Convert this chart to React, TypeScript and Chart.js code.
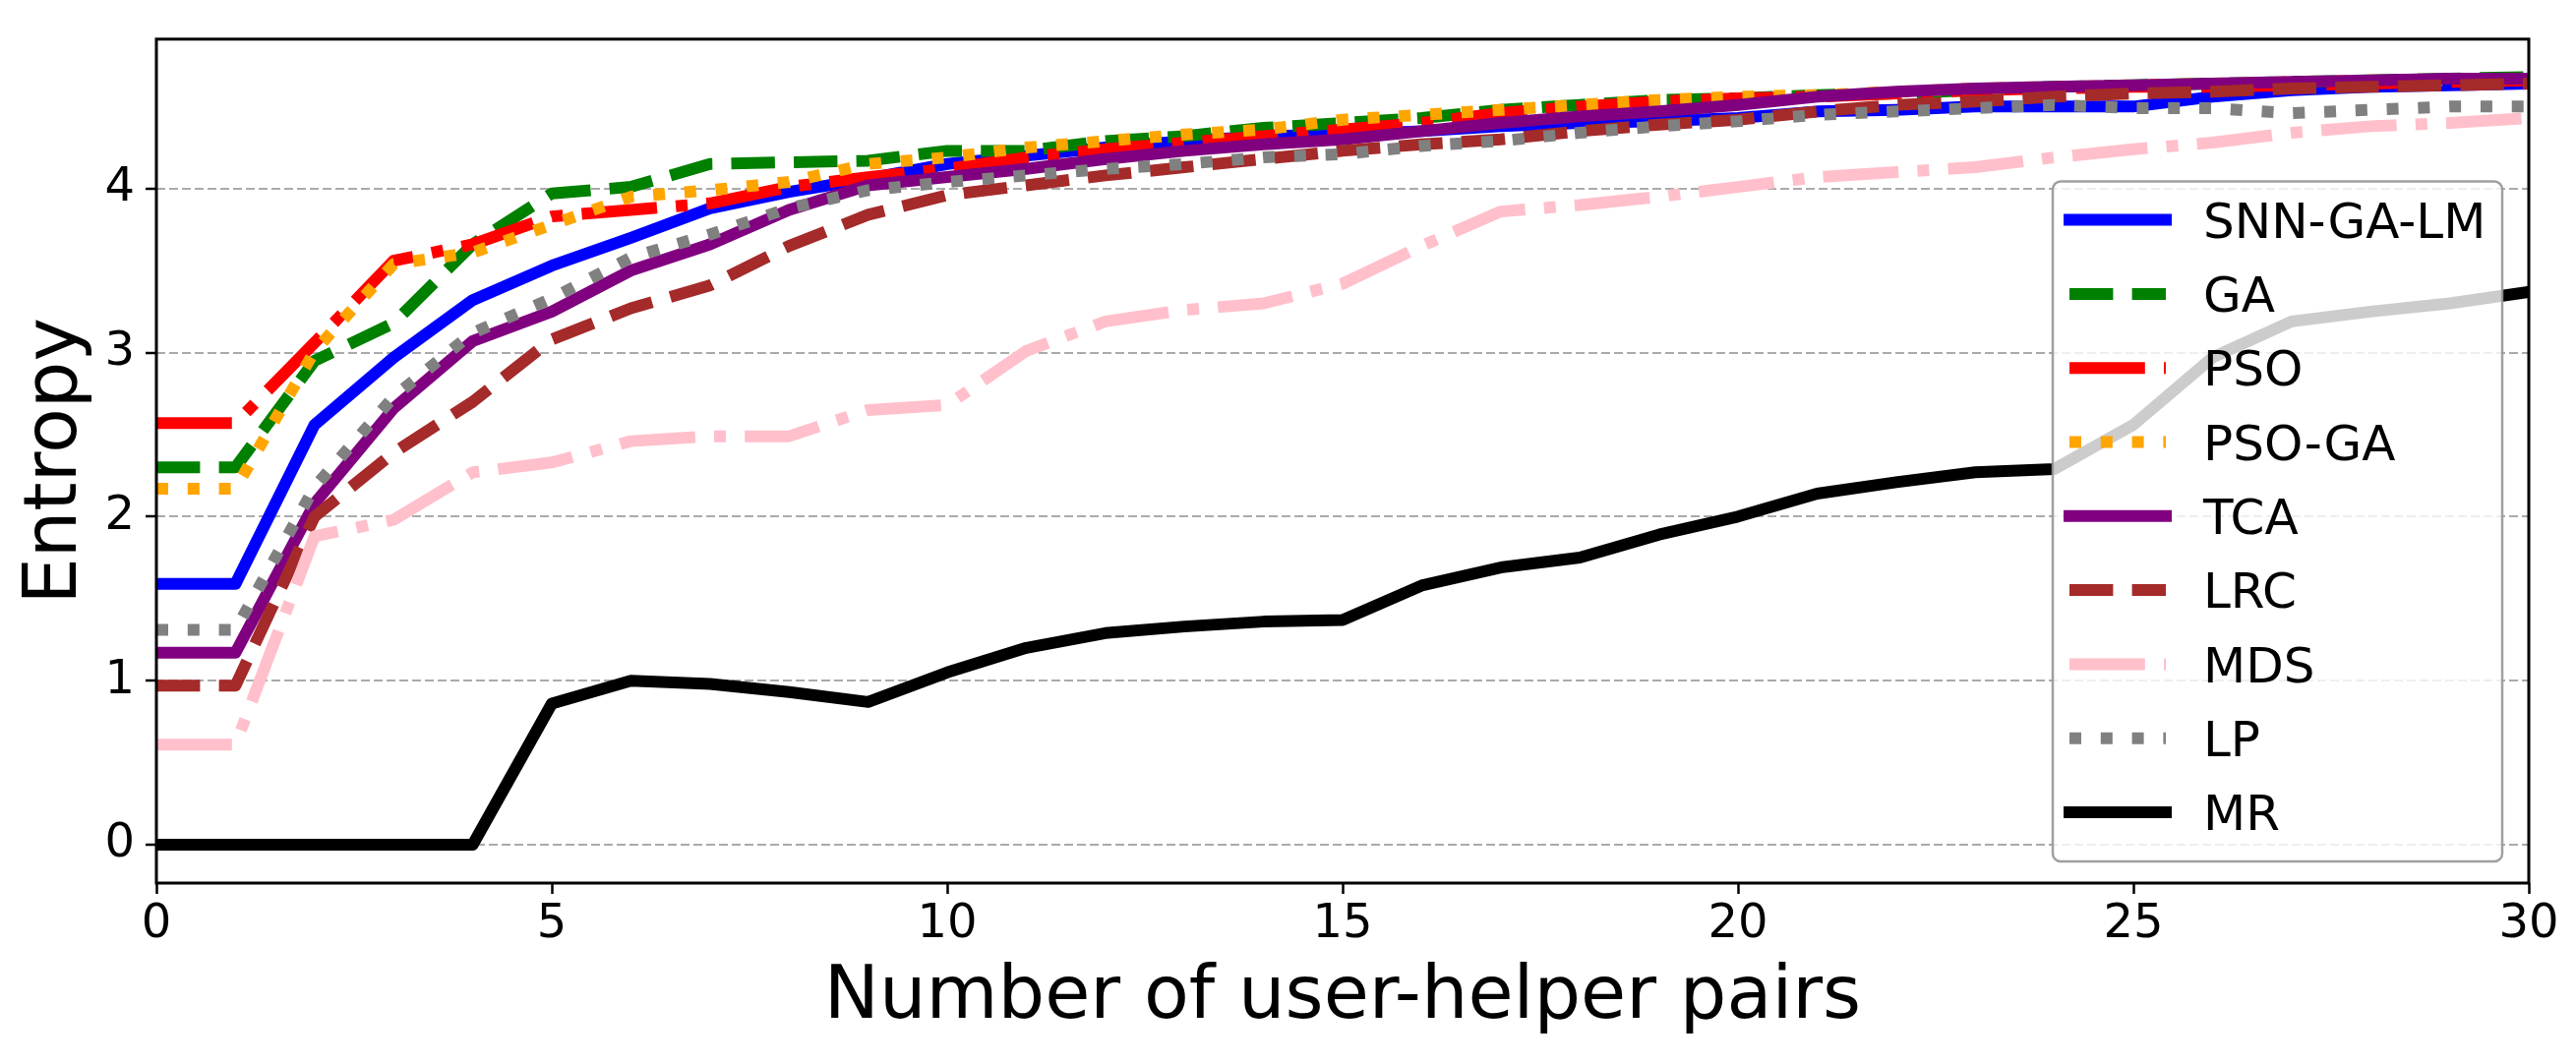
import { useEffect, useRef } from "react";
import Chart from "chart.js/auto";

// number of user-helper pairs (x)
const pairs = [0, 1, 2, 3, 4, 5, 6, 7, 8, 9, 10, 11, 12, 13, 14, 15, 16, 17, 18, 19, 20, 21, 22, 23, 24, 25, 26, 27, 28, 29, 30];

// entropy per method
const snnGaLm = [1.59, 1.59, 2.56, 2.97, 3.32, 3.53, 3.70, 3.88, 3.98, 4.06, 4.15, 4.20, 4.25, 4.29, 4.32, 4.33, 4.35, 4.38, 4.40, 4.41, 4.43, 4.47, 4.48, 4.50, 4.50, 4.50, 4.56, 4.60, 4.62, 4.63, 4.64];
const ga = [2.30, 2.30, 2.95, 3.18, 3.66, 3.97, 4.01, 4.15, 4.16, 4.17, 4.23, 4.23, 4.29, 4.32, 4.37, 4.40, 4.43, 4.48, 4.51, 4.54, 4.55, 4.57, 4.58, 4.60, 4.62, 4.63, 4.64, 4.65, 4.66, 4.67, 4.68];
const pso = [2.57, 2.57, 3.06, 3.56, 3.66, 3.83, 3.87, 3.91, 4.01, 4.07, 4.12, 4.19, 4.24, 4.28, 4.32, 4.36, 4.40, 4.46, 4.50, 4.53, 4.55, 4.56, 4.58, 4.60, 4.61, 4.62, 4.62, 4.63, 4.64, 4.65, 4.66];
const psoGa = [2.17, 2.17, 3.01, 3.54, 3.61, 3.78, 3.95, 3.99, 4.04, 4.15, 4.19, 4.25, 4.29, 4.33, 4.36, 4.42, 4.45, 4.48, 4.51, 4.54, 4.56, 4.57, 4.59, 4.61, 4.62, 4.63, 4.64, 4.65, 4.66, 4.66, 4.67];
const tca = [1.17, 1.17, 2.08, 2.66, 3.07, 3.25, 3.50, 3.66, 3.87, 4.02, 4.07, 4.12, 4.18, 4.23, 4.27, 4.30, 4.35, 4.40, 4.44, 4.47, 4.51, 4.56, 4.59, 4.61, 4.62, 4.63, 4.64, 4.65, 4.66, 4.67, 4.67];
const lrc = [0.97, 0.97, 2.00, 2.39, 2.70, 3.08, 3.27, 3.41, 3.65, 3.84, 3.96, 4.02, 4.08, 4.13, 4.18, 4.23, 4.27, 4.30, 4.35, 4.39, 4.42, 4.47, 4.51, 4.53, 4.56, 4.58, 4.59, 4.61, 4.62, 4.63, 4.64];
const mds = [0.61, 0.61, 1.88, 1.98, 2.27, 2.33, 2.46, 2.49, 2.49, 2.65, 2.68, 3.01, 3.19, 3.26, 3.30, 3.42, 3.65, 3.86, 3.90, 3.95, 4.01, 4.07, 4.10, 4.13, 4.19, 4.24, 4.28, 4.34, 4.38, 4.40, 4.43];
const lp = [1.31, 1.31, 2.18, 2.73, 3.12, 3.33, 3.58, 3.72, 3.88, 3.99, 4.04, 4.08, 4.12, 4.15, 4.19, 4.21, 4.26, 4.29, 4.34, 4.38, 4.41, 4.45, 4.47, 4.49, 4.51, 4.49, 4.49, 4.46, 4.48, 4.50, 4.50];
const mr = [0, 0, 0, 0, 0, 0.86, 1.00, 0.98, 0.93, 0.87, 1.05, 1.20, 1.29, 1.33, 1.36, 1.37, 1.58, 1.69, 1.75, 1.89, 2.00, 2.14, 2.21, 2.27, 2.29, 2.56, 2.97, 3.19, 3.25, 3.30, 3.37];

const xTicks = [0, 5, 10, 15, 20, 25, 30];
const yTicks = [0, 1, 2, 3, 4];

const FONT = "'DejaVu Sans', sans-serif";
const LW = 12;
const SOLID: number[] = [];
const DASHED = [3.7 * LW, 1.6 * LW];
const DOTTED = [1 * LW, 1.65 * LW];
const DASHDOT = [6.4 * LW, 1.6 * LW, 1 * LW, 1.6 * LW];

const series = [
  { label: "SNN-GA-LM", values: snnGaLm, color: "#0000ff", dash: SOLID },
  { label: "GA", values: ga, color: "#008000", dash: DASHED },
  { label: "PSO", values: pso, color: "#ff0000", dash: DASHDOT },
  { label: "PSO-GA", values: psoGa, color: "#ffa500", dash: DOTTED },
  { label: "TCA", values: tca, color: "#800080", dash: SOLID },
  { label: "LRC", values: lrc, color: "#a52a2a", dash: DASHED },
  { label: "MDS", values: mds, color: "#ffc0cb", dash: DASHDOT },
  { label: "LP", values: lp, color: "#808080", dash: DOTTED },
  { label: "MR", values: mr, color: "#000000", dash: SOLID },
];

// axes frame + matplotlib style legend (semi transparent, drawn over the lines)
const frameAndLegend = {
  id: "frameAndLegend",
  afterDraw(chart: any) {
    const { ctx, chartArea: a } = chart;
    ctx.save();
    ctx.strokeStyle = "#000";
    ctx.lineWidth = 3;
    ctx.strokeRect(a.left, a.top, a.right - a.left, a.bottom - a.top);

    const fs = 50;
    const rowH = 75.3;
    const sets = chart.data.datasets;
    const right = a.right - 27;
    const bottom = a.bottom - 22;
    const top = bottom - (39 + (sets.length - 1) * rowH + 50);
    const left = 2087;
    ctx.beginPath();
    ctx.roundRect(left, top, right - left, bottom - top, 8);
    ctx.fillStyle = "rgba(255,255,255,0.8)";
    ctx.fill();
    ctx.strokeStyle = "rgba(150,150,150,0.9)";
    ctx.lineWidth = 2.5;
    ctx.stroke();

    ctx.font = `${fs}px ${FONT}`;
    ctx.textBaseline = "alphabetic";
    ctx.textAlign = "left";
    sets.forEach((ds: any, i: number) => {
      const cy = top + 39 + i * rowH;
      const x0 = left + 17;
      const x1 = x0 + 98;
      ctx.beginPath();
      ctx.setLineDash(ds.borderDash);
      ctx.lineCap = ds.borderDash.length ? "butt" : "square";
      ctx.strokeStyle = ds.borderColor;
      ctx.lineWidth = ds.borderWidth;
      ctx.moveTo(x0, cy);
      ctx.lineTo(x1, cy);
      ctx.stroke();
      ctx.setLineDash([]);
      ctx.fillStyle = "#000";
      ctx.fillText(ds.label, x1 + 38, cy + 0.3645 * fs);
    });
    ctx.restore();
  },
};

export default function App() {
  const ref = useRef<HTMLCanvasElement | null>(null);

  useEffect(() => {
    document.body.style.margin = "0";
    if (!ref.current) return;
    const chart = new Chart(ref.current, {
      type: "line",
      data: {
        datasets: series.map((s, i) => ({
          label: s.label,
          data: pairs.map((x, j) => ({ x, y: s.values[j] })),
          borderColor: s.color,
          backgroundColor: s.color,
          borderWidth: LW,
          borderDash: s.dash,
          borderCapStyle: s.dash.length ? "butt" : "square",
          borderJoinStyle: "round",
          pointRadius: 0,
          tension: 0,
          fill: false,
          clip: 0,
          order: series.length - i,
        })),
      },
      options: {
        animation: false,
        responsive: true,
        maintainAspectRatio: false,
        devicePixelRatio: 1,
        layout: { padding: { top: 23, right: 48, left: 0, bottom: 0 } },
        plugins: { legend: { display: false }, tooltip: { enabled: false } },
        scales: {
          x: {
            type: "linear",
            min: 0,
            max: 30,
            afterBuildTicks: (s: any) => {
              s.ticks = xTicks.map((v) => ({ value: v }));
            },
            afterFit: (s: any) => {
              s.height = 184;
            },
            grid: { drawOnChartArea: false, drawTicks: true, tickLength: 11, tickColor: "#000", tickWidth: 2.5 },
            border: { display: false },
            ticks: { font: { family: FONT, size: 48 }, color: "#000", padding: 3, maxRotation: 0, autoSkip: false },
            title: {
              display: true,
              text: "Number of user-helper pairs",
              font: { family: FONT, size: 75 },
              color: "#000",
              padding: { top: 0, bottom: 21 },
            },
          },
          y: {
            type: "linear",
            min: -0.234,
            max: 4.911,
            afterBuildTicks: (s: any) => {
              s.ticks = yTicks.map((v) => ({ value: v }));
            },
            afterFit: (s: any) => {
              s.width = 159;
            },
            grid: { color: "#aaaaaa", lineWidth: 2, tickLength: 11, tickColor: "#000", tickWidth: 2.5 },
            border: { display: false, dash: [9, 4] },
            ticks: { font: { family: FONT, size: 48 }, color: "#000", padding: 11 },
            title: {
              display: true,
              text: "Entropy",
              font: { family: FONT, size: 75 },
              color: "#000",
              padding: { top: 13, bottom: 0 },
            },
          },
        },
      },
      plugins: [frameAndLegend],
    });
    return () => chart.destroy();
  }, []);

  return (
    <div style={{ position: "relative", width: 2619, height: 1082 }}>
      <canvas ref={ref} />
    </div>
  );
}
